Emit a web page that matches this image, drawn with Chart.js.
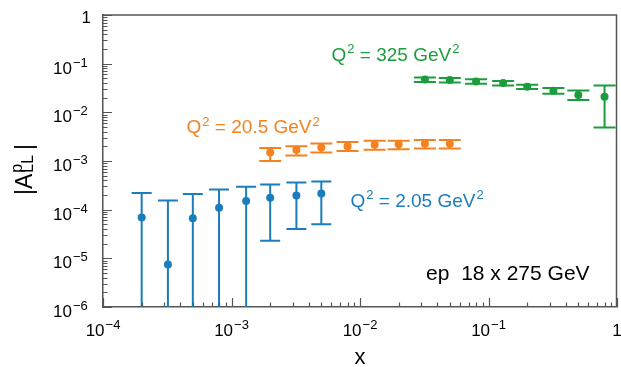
<!DOCTYPE html>
<html>
<head>
<meta charset="utf-8">
<script src="https://cdn.jsdelivr.net/npm/chart.js@4"></script>
<style>
  html, body { margin: 0; padding: 0; background: #fff; }
</style>
</head>
<body>
<canvas id="chart" width="621" height="367"></canvas>
<script>
// Q2 = 2.05 GeV2
const xLow = [2.0e-4, 3.2e-4, 5.0e-4, 8.0e-4, 1.3e-3, 2.0e-3, 3.2e-3, 5.0e-3];
const aLow = [6.9e-5, 7.5e-6, 6.7e-5, 1.1e-4, 1.5e-4, 1.75e-4, 1.95e-4, 2.15e-4];
const aLowUp = [2.2e-4, 1.55e-4, 2.1e-4, 2.6e-4, 2.95e-4, 3.3e-4, 3.6e-4, 3.8e-4];
const aLowDn = [0, 0, 0, 0, 0, 2.3e-5, 4.0e-5, 5.0e-5];

// Q2 = 20.5 GeV2
const xMid = [2.0e-3, 3.2e-3, 5.0e-3, 8.0e-3, 1.3e-2, 2.0e-2, 3.2e-2, 5.0e-2];
const aMid = [1.5e-3, 1.7e-3, 1.9e-3, 2.0e-3, 2.15e-3, 2.2e-3, 2.25e-3, 2.25e-3];
const aMidUp = [1.85e-3, 2.0e-3, 2.3e-3, 2.45e-3, 2.6e-3, 2.6e-3, 2.7e-3, 2.7e-3];
const aMidDn = [1.0e-3, 1.3e-3, 1.5e-3, 1.6e-3, 1.7e-3, 1.75e-3, 1.8e-3, 1.8e-3];

// Q2 = 325 GeV2
const xHigh = [0.032, 0.05, 0.08, 0.13, 0.2, 0.32, 0.5, 0.8];
const aHigh = [0.047, 0.046, 0.043, 0.040, 0.0335, 0.0277, 0.0227, 0.021];
const aHighUp = [0.052, 0.051, 0.048, 0.044, 0.037, 0.0315, 0.028, 0.0356];
const aHighDn = [0.042, 0.041, 0.0385, 0.0356, 0.030, 0.024, 0.018, 0.0049];

const seriesLabels = ['Q² = 2.05 GeV²', 'Q² = 20.5 GeV²', 'Q² = 325 GeV²'];
const beamLabel = 'ep  18 x 275 GeV';

const xTickValues = [1e-4, 1e-3, 1e-2, 1e-1, 1];
const xTickBase = ['10', '10', '10', '10', '1'];
const xTickExp = ['−4', '−3', '−2', '−1', ''];
const yTickValues = [1e-6, 1e-5, 1e-4, 1e-3, 1e-2, 1e-1, 1];
const yTickBase = ['10', '10', '10', '10', '10', '10', '1'];
const yTickExp = ['−6', '−5', '−4', '−3', '−2', '−1', ''];

const FONT = "'Liberation Sans', Arial, Helvetica, sans-serif";
const BLUE = '#1a7dbc';
const ORANGE = '#f5821f';
const GREEN = '#1c9d3d';
const FRAME = '#555555';

Chart.defaults.font.family = FONT;

function series(xs, ys, up, dn, label, color) {
    return {
        label: label,
        data: xs.map((x, i) => ({ x: x, y: ys[i] })),
        errHigh: up,
        errLow: dn,
        showLine: false,
        pointRadius: 4,
        pointBorderWidth: 0,
        backgroundColor: color,
        borderColor: color
    };
}

// split text so that every '²' is drawn as a raised 2
function richParts(text) {
    const parts = [];
    let buf = '';
    for (const ch of text) {
        if (ch === '²') {
            if (buf) parts.push([buf, false]);
            parts.push(['2', true]);
            buf = '';
        } else {
            buf += ch;
        }
    }
    if (buf) parts.push([buf, false]);
    return parts;
}

function richWidth(ctx, parts, size, supSize) {
    let w = 0;
    parts.forEach(([t, sup]) => {
        ctx.font = (sup ? supSize : size) + 'px ' + FONT;
        w += ctx.measureText(t).width + (sup ? 1 : 0);
    });
    return w;
}

function drawRich(ctx, parts, x, y, size, supSize, rise) {
    let cx = x;
    parts.forEach(([t, sup]) => {
        ctx.font = (sup ? supSize : size) + 'px ' + FONT;
        if (sup) cx += 1;
        ctx.fillText(t, cx, sup ? y - rise : y);
        cx += ctx.measureText(t).width;
    });
}

// vertical error bars with caps, drawn through the scales
const errorBars = {
    id: 'errorBars',
    beforeDatasetsDraw(chart) {
        const { ctx, chartArea, scales: { x, y } } = chart;
        ctx.save();
        ctx.beginPath();
        ctx.rect(chartArea.left, chartArea.top, chartArea.width, chartArea.height);
        ctx.clip();
        chart.data.datasets.forEach((ds, k) => {
            const half = k === 0 ? 10 : 11;
            ctx.strokeStyle = ds.borderColor;
            ctx.lineWidth = 2;
            ds.data.forEach((p, i) => {
                const px = x.getPixelForValue(p.x);
                const top = y.getPixelForValue(ds.errHigh[i]);
                const lo = ds.errLow[i];
                const bot = lo > 0 ? y.getPixelForValue(lo) : chartArea.bottom + 2;
                ctx.beginPath();
                ctx.moveTo(px, top);
                ctx.lineTo(px, bot);
                ctx.moveTo(px - half, top);
                ctx.lineTo(px + half, top);
                if (lo > 0) {
                    ctx.moveTo(px - half, bot);
                    ctx.lineTo(px + half, bot);
                }
                ctx.stroke();
            });
        });
        ctx.restore();
    }
};

// ROOT style frame: inner log ticks, tick labels with exponents, top and right border
const frame = {
    id: 'frame',
    afterDraw(chart) {
        const { ctx, chartArea: a, scales: { x, y } } = chart;
        ctx.save();
        ctx.strokeStyle = FRAME;
        ctx.lineWidth = 1.2;
        ctx.beginPath();
        for (let e = -4; e <= 0; e++) {
            for (let m = 1; m <= 9; m++) {
                const v = m * Math.pow(10, e);
                if (v > 1.0001) continue;
                const px = Math.round(x.getPixelForValue(v)) + 0.5;
                const len = m === 1 ? 9 : 4.5;
                ctx.moveTo(px, a.bottom);
                ctx.lineTo(px, a.bottom - len);
            }
        }
        for (let e = -6; e <= 0; e++) {
            for (let m = 1; m <= 9; m++) {
                const v = m * Math.pow(10, e);
                if (v > 1.0001) continue;
                const py = Math.round(y.getPixelForValue(v)) + 0.5;
                const len = m === 1 ? 9 : 4.5;
                ctx.moveTo(a.left, py);
                ctx.lineTo(a.left + len, py);
            }
        }
        ctx.stroke();
        ctx.lineWidth = 1.5;
        ctx.beginPath();
        ctx.moveTo(a.left, a.top);
        ctx.lineTo(a.right - 0.5, a.top);
        ctx.lineTo(a.right - 0.5, a.bottom);
        ctx.stroke();

        ctx.fillStyle = '#000';
        ctx.textAlign = 'left';
        ctx.textBaseline = 'alphabetic';
        x.ticks.forEach((t, i) => {
            const parts = [[xTickBase[i], false]];
            if (xTickExp[i]) parts.push([xTickExp[i], true]);
            const w = richWidth(ctx, parts, 17, 13);
            drawRich(ctx, parts, x.getPixelForValue(t.value) - w / 2, a.bottom + 29, 17, 13, 7.5);
        });
        y.ticks.forEach((t, i) => {
            const parts = [[yTickBase[i], false]];
            const py = y.getPixelForValue(t.value) + 10;
            if (yTickExp[i]) {
                parts.push([yTickExp[i], true]);
                drawRich(ctx, parts, 53, py, 17, 13, 7);
            } else {
                const w = richWidth(ctx, parts, 17, 13);
                drawRich(ctx, parts, a.left - 12 - w, py - 2, 17, 13, 7);
            }
        });
        ctx.restore();
    }
};

// text labels placed in data coordinates, and the y axis title
const annotations = {
    id: 'annotations',
    afterDraw(chart) {
        const { ctx, scales: { x, y } } = chart;
        ctx.save();
        ctx.textBaseline = 'alphabetic';
        ctx.textAlign = 'left';
        const put = (text, xv, yv, color, size, supSize, rise) => {
            ctx.fillStyle = color;
            drawRich(ctx, richParts(text), x.getPixelForValue(xv), y.getPixelForValue(yv), size, supSize, rise);
        };
        put(seriesLabels[2], 6.0e-3, 0.1135, GREEN, 19, 13, 7.5);
        put(seriesLabels[1], 4.47e-4, 3.76e-3, ORANGE, 19, 13, 7.5);
        put(seriesLabels[0], 8.44e-3, 1.135e-4, BLUE, 19, 13, 7.5);
        put(beamLabel, 0.0327, 3.59e-6, '#000', 21, 14, 8);

        // |A^p_LL|
        ctx.translate(32, 195);
        ctx.rotate(-Math.PI / 2);
        ctx.fillStyle = '#000';
        ctx.font = '23px ' + FONT;
        ctx.fillText('|A', 0, 0);
        let w = ctx.measureText('|A').width + 1;
        ctx.font = '16px ' + FONT;
        ctx.fillText('LL', w, 1);
        ctx.fillText('p', w, -10);
        w += ctx.measureText('LL').width + 5;
        ctx.font = '23px ' + FONT;
        ctx.fillText('|', w, 0);
        ctx.restore();
    }
};

new Chart(document.getElementById('chart'), {
    type: 'scatter',
    data: {
        datasets: [
            series(xLow, aLow, aLowUp, aLowDn, seriesLabels[0], BLUE),
            series(xMid, aMid, aMidUp, aMidDn, seriesLabels[1], ORANGE),
            series(xHigh, aHigh, aHighUp, aHighDn, seriesLabels[2], GREEN)
        ]
    },
    options: {
        responsive: false,
        devicePixelRatio: 1,
        animation: false,
        layout: { padding: { left: 53, top: 15, right: 1, bottom: 0 } },
        plugins: {
            legend: { display: false },
            tooltip: { enabled: false }
        },
        scales: {
            x: {
                type: 'logarithmic',
                position: 'bottom',
                min: 1e-4,
                max: 1,
                grid: { display: false, drawTicks: false },
                border: { display: true, color: FRAME, width: 1.5 },
                afterBuildTicks: s => { s.ticks = xTickValues.map(v => ({ value: v })); },
                ticks: { display: false },
                title: {
                    display: true,
                    text: 'x',
                    color: '#000',
                    font: { size: 22, lineHeight: 0.8 },
                    padding: { top: 0, bottom: 0 }
                },
                afterFit: s => {
                    s.height = 60;
                    s.paddingLeft = 0;
                    s.paddingRight = 0;
                }
            },
            y: {
                type: 'logarithmic',
                position: 'left',
                min: 1e-6,
                max: 1,
                grid: { display: false, drawTicks: false },
                border: { display: true, color: FRAME, width: 1.5 },
                afterBuildTicks: s => { s.ticks = yTickValues.map(v => ({ value: v })); },
                ticks: { display: false },
                afterFit: s => {
                    s.width = 50;
                    s.paddingTop = 0;
                    s.paddingBottom = 0;
                }
            }
        }
    },
    plugins: [errorBars, frame, annotations]
});
</script>
</body>
</html>
